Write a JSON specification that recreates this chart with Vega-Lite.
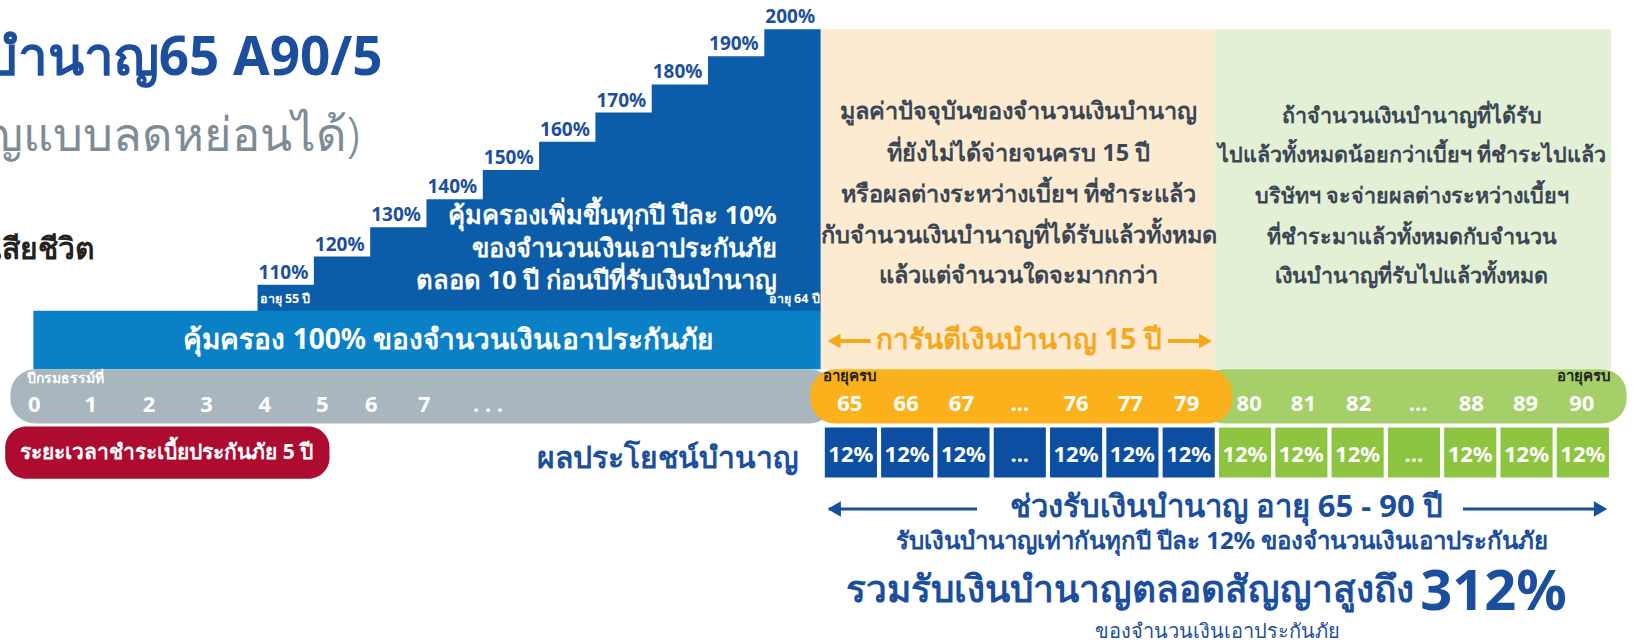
{
  "$schema": "https://vega.github.io/schema/vega-lite/v6.json",
  "width": 1635,
  "height": 643,
  "padding": 0,
  "autosize": {"type": "none"},
  "config": {"view": {"stroke": null}, "text": {"font": "Noto Sans"}},
  "datasets": {
    "peach": [{"x": 787, "x2": 1165, "y": 28, "y2": 354}],
    "lgreen": [{"x": 1165, "x2": 1545, "y": 28, "y2": 354}],
    "stairs": [
      {"pct": "110%", "x": 247, "x2": 302, "y": 273, "y2": 300},
      {"pct": "120%", "x": 301, "x2": 356, "y": 246, "y2": 300},
      {"pct": "130%", "x": 355, "x2": 410, "y": 218, "y2": 300},
      {"pct": "140%", "x": 409, "x2": 464, "y": 191, "y2": 300},
      {"pct": "150%", "x": 463, "x2": 518, "y": 163, "y2": 300},
      {"pct": "160%", "x": 517, "x2": 572, "y": 136, "y2": 300},
      {"pct": "170%", "x": 571, "x2": 626, "y": 108, "y2": 300},
      {"pct": "180%", "x": 625, "x2": 680, "y": 81, "y2": 300},
      {"pct": "190%", "x": 679, "x2": 734, "y": 54, "y2": 300},
      {"pct": "200%", "x": 733, "x2": 787, "y": 28, "y2": 300}
    ],
    "bar100": [{"x": 32, "x2": 787, "y": 298, "y2": 354}],
    "graypill": [{"x": 10, "x2": 800, "y": 354, "y2": 406}],
    "greenpill": [{"x": 1150, "x2": 1560, "y": 354, "y2": 406}],
    "orangepill": [{"x": 777, "x2": 1182, "y": 354, "y2": 406}],
    "redpill": [{"x": 5, "x2": 316, "y": 409, "y2": 459}],
    "blueboxes": [
      {"x": 791, "x2": 841, "t": "12%"},
      {"x": 845, "x2": 895, "t": "12%"},
      {"x": 899, "x2": 949, "t": "12%"},
      {"x": 953, "x2": 1003, "t": "..."},
      {"x": 1007, "x2": 1057, "t": "12%"},
      {"x": 1061, "x2": 1111, "t": "12%"},
      {"x": 1115, "x2": 1165, "t": "12%"}
    ],
    "greenboxes": [
      {"x": 1169, "x2": 1219, "t": "12%"},
      {"x": 1223, "x2": 1273, "t": "12%"},
      {"x": 1277, "x2": 1327, "t": "12%"},
      {"x": 1331, "x2": 1381, "t": "..."},
      {"x": 1385, "x2": 1435, "t": "12%"},
      {"x": 1439, "x2": 1489, "t": "12%"},
      {"x": 1493, "x2": 1543, "t": "12%"}
    ],
    "bluelines": [{"x": 795, "x2": 937, "y": 488}, {"x": 1403, "x2": 1538, "y": 488}],
    "bluehead_l": [{"x": 800, "y": 488}],
    "bluehead_r": [{"x": 1535, "y": 488}],
    "orangelines": [{"x": 797, "x2": 835, "y": 327}, {"x": 1120, "x2": 1158, "y": 327}],
    "orangehead_l": [{"x": 800, "y": 327}],
    "orangehead_r": [{"x": 1156, "y": 327}],
    "title": [{"x": 367, "y": 57, "t": "บำนาญ65 A90/5"}],
    "subtitle": [{"x": 345, "y": 131, "t": "บำนาญแบบลดหย่อนได้)"}],
    "death": [{"x": 90, "y": 240, "t": "เสียชีวิต"}],
    "stairtext": [
      {"x": 745, "y": 207, "t": "คุ้มครองเพิ่มขึ้นทุกปี ปีละ 10%"},
      {"x": 745, "y": 239, "t": "ของจำนวนเงินเอาประกันภัย"},
      {"x": 745, "y": 269, "t": "ตลอด 10 ปี ก่อนปีที่รับเงินบำนาญ"}
    ],
    "agesmall_l": [{"x": 249, "y": 287, "t": "อายุ 55 ปี"}],
    "agesmall_r": [{"x": 786, "y": 287, "t": "อายุ 64 ปี"}],
    "bartext": [{"x": 430, "y": 327, "t": "คุ้มครอง 100% ของจำนวนเงินเอาประกันภัย"}],
    "peachtext": [
      {"x": 977, "y": 107, "t": "มูลค่าปัจจุบันของจำนวนเงินบำนาญ"},
      {"x": 977, "y": 148, "t": "ที่ยังไม่ได้จ่ายจนครบ 15 ปี"},
      {"x": 977, "y": 187, "t": "หรือผลต่างระหว่างเบี้ยฯ ที่ชำระแล้ว"},
      {"x": 977, "y": 226, "t": "กับจำนวนเงินบำนาญที่ได้รับแล้วทั้งหมด"},
      {"x": 977, "y": 265, "t": "แล้วแต่จำนวนใดจะมากกว่า"}
    ],
    "greentext": [
      {"x": 1354, "y": 112, "t": "ถ้าจำนวนเงินบำนาญที่ได้รับ"},
      {"x": 1354, "y": 150, "t": "ไปแล้วทั้งหมดน้อยกว่าเบี้ยฯ ที่ชำระไปแล้ว"},
      {"x": 1354, "y": 189, "t": "บริษัทฯ จะจ่ายผลต่างระหว่างเบี้ยฯ"},
      {"x": 1354, "y": 228, "t": "ที่ชำระมาแล้วทั้งหมดกับจำนวน"},
      {"x": 1354, "y": 266, "t": "เงินบำนาญที่รับไปแล้วทั้งหมด"}
    ],
    "guarantee": [{"x": 977, "y": 327, "t": "การันตีเงินบำนาญ 15 ปี"}],
    "polyearlabel": [{"x": 26, "y": 363, "t": "ปีกรมธรรม์ที่"}],
    "agelabel_l": [{"x": 789, "y": 361, "t": "อายุครบ"}],
    "agelabel_r": [{"x": 1545, "y": 361, "t": "อายุครบ"}],
    "numbers": [
      {"x": 33, "y": 388, "t": "0"},
      {"x": 87, "y": 388, "t": "1"},
      {"x": 143, "y": 388, "t": "2"},
      {"x": 198, "y": 388, "t": "3"},
      {"x": 254, "y": 388, "t": "4"},
      {"x": 309, "y": 388, "t": "5"},
      {"x": 356, "y": 388, "t": "6"},
      {"x": 407, "y": 388, "t": "7"},
      {"x": 468, "y": 388, "t": ". . ."},
      {"x": 815, "y": 387, "t": "65"},
      {"x": 869, "y": 387, "t": "66"},
      {"x": 922, "y": 387, "t": "67"},
      {"x": 978, "y": 387, "t": "..."},
      {"x": 1032, "y": 387, "t": "76"},
      {"x": 1084, "y": 387, "t": "77"},
      {"x": 1138, "y": 387, "t": "79"},
      {"x": 1198, "y": 387, "t": "80"},
      {"x": 1250, "y": 387, "t": "81"},
      {"x": 1303, "y": 387, "t": "82"},
      {"x": 1360, "y": 387, "t": "..."},
      {"x": 1411, "y": 387, "t": "88"},
      {"x": 1463, "y": 387, "t": "89"},
      {"x": 1517, "y": 387, "t": "90"}
    ],
    "benefit": [{"x": 766, "y": 440, "t": "ผลประโยชน์บำนาญ"}],
    "redtext": [{"x": 160, "y": 434, "t": "ระยะเวลาชำระเบี้ยประกันภัย 5 ปี"}],
    "period": [{"x": 1176, "y": 487, "t": "ช่วงรับเงินบำนาญ อายุ 65 - 90 ปี"}],
    "equal": [{"x": 1172, "y": 520, "t": "รับเงินบำนาญเท่ากันทุกปี ปีละ 12% ของจำนวนเงินเอาประกันภัย"}],
    "total": [{"x": 1356, "y": 567, "t": "รวมรับเงินบำนาญตลอดสัญญาสูงถึง"}],
    "total312": [{"x": 1362, "y": 569, "t": "312%"}],
    "ofsum": [{"x": 1168, "y": 606, "t": "ของจำนวนเงินเอาประกันภัย"}]
  },
  "layer": [
    {"data": {"name": "peach"}, "mark": {"type": "rect", "color": "#fdebd1"},
     "encoding": {"x": {"field": "x", "type": "quantitative", "scale": {"domain": [0, 1568], "nice": false, "zero": false}, "axis": null}, "x2": {"field": "x2"}, "y": {"field": "y", "type": "quantitative", "scale": {"domain": [0, 616.6], "reverse": true, "nice": false, "zero": false}, "axis": null}, "y2": {"field": "y2"}}},
    {"data": {"name": "lgreen"}, "mark": {"type": "rect", "color": "#e4f0d5"},
     "encoding": {"x": {"field": "x", "type": "quantitative"}, "x2": {"field": "x2"}, "y": {"field": "y", "type": "quantitative"}, "y2": {"field": "y2"}}},
    {"data": {"name": "stairs"}, "mark": {"type": "rect", "color": "#0b5ca9"},
     "encoding": {"x": {"field": "x", "type": "quantitative"}, "x2": {"field": "x2"}, "y": {"field": "y", "type": "quantitative"}, "y2": {"field": "y2"}}},
    {"data": {"name": "stairs"}, "mark": {"type": "text", "align": "left", "baseline": "middle", "dx": 1, "dy": -12, "fontSize": 19, "fontWeight": "bold", "color": "#1b4f9e"},
     "encoding": {"x": {"field": "x", "type": "quantitative"}, "y": {"field": "y", "type": "quantitative"}, "text": {"field": "pct"}}},
    {"data": {"name": "bar100"}, "mark": {"type": "rect", "color": "#0a81c7"},
     "encoding": {"x": {"field": "x", "type": "quantitative"}, "x2": {"field": "x2"}, "y": {"field": "y", "type": "quantitative"}, "y2": {"field": "y2"}}},
    {"data": {"name": "graypill"}, "mark": {"type": "rect", "color": "#aab6be", "cornerRadius": 25},
     "encoding": {"x": {"field": "x", "type": "quantitative"}, "x2": {"field": "x2"}, "y": {"field": "y", "type": "quantitative"}, "y2": {"field": "y2"}}},
    {"data": {"name": "greenpill"}, "mark": {"type": "rect", "color": "#a5cf69", "cornerRadius": 25},
     "encoding": {"x": {"field": "x", "type": "quantitative"}, "x2": {"field": "x2"}, "y": {"field": "y", "type": "quantitative"}, "y2": {"field": "y2"}}},
    {"data": {"name": "orangepill"}, "mark": {"type": "rect", "color": "#fbb11b", "cornerRadius": 25},
     "encoding": {"x": {"field": "x", "type": "quantitative"}, "x2": {"field": "x2"}, "y": {"field": "y", "type": "quantitative"}, "y2": {"field": "y2"}}},
    {"data": {"name": "redpill"}, "mark": {"type": "rect", "color": "#ad0b30", "cornerRadius": 21},
     "encoding": {"x": {"field": "x", "type": "quantitative"}, "x2": {"field": "x2"}, "y": {"field": "y", "type": "quantitative"}, "y2": {"field": "y2"}}},
    {"data": {"name": "blueboxes"}, "mark": {"type": "rect", "color": "#0c4ea2"},
     "encoding": {"x": {"field": "x", "type": "quantitative"}, "x2": {"field": "x2"}, "y": {"datum": 410, "type": "quantitative"}, "y2": {"datum": 458}}},
    {"data": {"name": "greenboxes"}, "mark": {"type": "rect", "color": "#8dc540"},
     "encoding": {"x": {"field": "x", "type": "quantitative"}, "x2": {"field": "x2"}, "y": {"datum": 410, "type": "quantitative"}, "y2": {"datum": 458}}},
    {"data": {"name": "blueboxes"}, "mark": {"type": "text", "align": "center", "baseline": "middle", "dx": 26, "fontSize": 22, "fontWeight": "bold", "color": "white"},
     "encoding": {"x": {"field": "x", "type": "quantitative"}, "y": {"datum": 436, "type": "quantitative"}, "text": {"field": "t"}}},
    {"data": {"name": "greenboxes"}, "mark": {"type": "text", "align": "center", "baseline": "middle", "dx": 26, "fontSize": 22, "fontWeight": "bold", "color": "white"},
     "encoding": {"x": {"field": "x", "type": "quantitative"}, "y": {"datum": 436, "type": "quantitative"}, "text": {"field": "t"}}},
    {"data": {"name": "bluelines"}, "mark": {"type": "rule", "color": "#1a4d9c", "strokeWidth": 3},
     "encoding": {"x": {"field": "x", "type": "quantitative"}, "x2": {"field": "x2"}, "y": {"field": "y", "type": "quantitative"}}},
    {"data": {"name": "bluehead_l"}, "mark": {"type": "point", "shape": "triangle-left", "filled": true, "color": "#1a4d9c", "size": 240, "opacity": 1},
     "encoding": {"x": {"field": "x", "type": "quantitative"}, "y": {"field": "y", "type": "quantitative"}}},
    {"data": {"name": "bluehead_r"}, "mark": {"type": "point", "shape": "triangle-right", "filled": true, "color": "#1a4d9c", "size": 240, "opacity": 1},
     "encoding": {"x": {"field": "x", "type": "quantitative"}, "y": {"field": "y", "type": "quantitative"}}},
    {"data": {"name": "orangelines"}, "mark": {"type": "rule", "color": "#f6a81c", "strokeWidth": 4},
     "encoding": {"x": {"field": "x", "type": "quantitative"}, "x2": {"field": "x2"}, "y": {"field": "y", "type": "quantitative"}}},
    {"data": {"name": "orangehead_l"}, "mark": {"type": "point", "shape": "triangle-left", "filled": true, "color": "#f6a81c", "size": 220, "opacity": 1},
     "encoding": {"x": {"field": "x", "type": "quantitative"}, "y": {"field": "y", "type": "quantitative"}}},
    {"data": {"name": "orangehead_r"}, "mark": {"type": "point", "shape": "triangle-right", "filled": true, "color": "#f6a81c", "size": 220, "opacity": 1},
     "encoding": {"x": {"field": "x", "type": "quantitative"}, "y": {"field": "y", "type": "quantitative"}}},
    {"data": {"name": "title"}, "mark": {"type": "text", "align": "right", "baseline": "middle", "fontSize": 53, "fontWeight": "bold", "color": "#1b4f9e"},
     "encoding": {"x": {"field": "x", "type": "quantitative"}, "y": {"field": "y", "type": "quantitative"}, "text": {"field": "t"}}},
    {"data": {"name": "subtitle"}, "mark": {"type": "text", "align": "right", "baseline": "middle", "fontSize": 47, "fontWeight": 300, "color": "#7e8c95"},
     "encoding": {"x": {"field": "x", "type": "quantitative"}, "y": {"field": "y", "type": "quantitative"}, "text": {"field": "t"}}},
    {"data": {"name": "death"}, "mark": {"type": "text", "align": "right", "baseline": "middle", "fontSize": 30, "fontWeight": "bold", "color": "#222222"},
     "encoding": {"x": {"field": "x", "type": "quantitative"}, "y": {"field": "y", "type": "quantitative"}, "text": {"field": "t"}}},
    {"data": {"name": "stairtext"}, "mark": {"type": "text", "align": "right", "baseline": "middle", "fontSize": 25.5, "fontWeight": "bold", "color": "white"},
     "encoding": {"x": {"field": "x", "type": "quantitative"}, "y": {"field": "y", "type": "quantitative"}, "text": {"field": "t"}}},
    {"data": {"name": "agesmall_l"}, "mark": {"type": "text", "align": "left", "baseline": "middle", "fontSize": 12.5, "fontWeight": "bold", "color": "white"},
     "encoding": {"x": {"field": "x", "type": "quantitative"}, "y": {"field": "y", "type": "quantitative"}, "text": {"field": "t"}}},
    {"data": {"name": "agesmall_r"}, "mark": {"type": "text", "align": "right", "baseline": "middle", "fontSize": 12.5, "fontWeight": "bold", "color": "white"},
     "encoding": {"x": {"field": "x", "type": "quantitative"}, "y": {"field": "y", "type": "quantitative"}, "text": {"field": "t"}}},
    {"data": {"name": "bartext"}, "mark": {"type": "text", "align": "center", "baseline": "middle", "fontSize": 28, "fontWeight": "bold", "color": "white"},
     "encoding": {"x": {"field": "x", "type": "quantitative"}, "y": {"field": "y", "type": "quantitative"}, "text": {"field": "t"}}},
    {"data": {"name": "peachtext"}, "mark": {"type": "text", "align": "center", "baseline": "middle", "fontSize": 23.5, "fontWeight": "bold", "color": "#3b4754"},
     "encoding": {"x": {"field": "x", "type": "quantitative"}, "y": {"field": "y", "type": "quantitative"}, "text": {"field": "t"}}},
    {"data": {"name": "greentext"}, "mark": {"type": "text", "align": "center", "baseline": "middle", "fontSize": 21.5, "fontWeight": "bold", "color": "#3b4754"},
     "encoding": {"x": {"field": "x", "type": "quantitative"}, "y": {"field": "y", "type": "quantitative"}, "text": {"field": "t"}}},
    {"data": {"name": "guarantee"}, "mark": {"type": "text", "align": "center", "baseline": "middle", "fontSize": 28, "fontWeight": "bold", "color": "#f6a81c"},
     "encoding": {"x": {"field": "x", "type": "quantitative"}, "y": {"field": "y", "type": "quantitative"}, "text": {"field": "t"}}},
    {"data": {"name": "polyearlabel"}, "mark": {"type": "text", "align": "left", "baseline": "middle", "fontSize": 14, "fontWeight": "bold", "color": "white"},
     "encoding": {"x": {"field": "x", "type": "quantitative"}, "y": {"field": "y", "type": "quantitative"}, "text": {"field": "t"}}},
    {"data": {"name": "agelabel_l"}, "mark": {"type": "text", "align": "left", "baseline": "middle", "fontSize": 15, "fontWeight": "bold", "color": "#222222"},
     "encoding": {"x": {"field": "x", "type": "quantitative"}, "y": {"field": "y", "type": "quantitative"}, "text": {"field": "t"}}},
    {"data": {"name": "agelabel_r"}, "mark": {"type": "text", "align": "right", "baseline": "middle", "fontSize": 15, "fontWeight": "bold", "color": "#222222"},
     "encoding": {"x": {"field": "x", "type": "quantitative"}, "y": {"field": "y", "type": "quantitative"}, "text": {"field": "t"}}},
    {"data": {"name": "numbers"}, "mark": {"type": "text", "align": "center", "baseline": "middle", "fontSize": 22, "fontWeight": "bold", "color": "white"},
     "encoding": {"x": {"field": "x", "type": "quantitative"}, "y": {"field": "y", "type": "quantitative"}, "text": {"field": "t"}}},
    {"data": {"name": "benefit"}, "mark": {"type": "text", "align": "right", "baseline": "middle", "fontSize": 30, "fontWeight": "bold", "color": "#1b4f9e"},
     "encoding": {"x": {"field": "x", "type": "quantitative"}, "y": {"field": "y", "type": "quantitative"}, "text": {"field": "t"}}},
    {"data": {"name": "redtext"}, "mark": {"type": "text", "align": "center", "baseline": "middle", "fontSize": 21, "fontWeight": "bold", "color": "white"},
     "encoding": {"x": {"field": "x", "type": "quantitative"}, "y": {"field": "y", "type": "quantitative"}, "text": {"field": "t"}}},
    {"data": {"name": "period"}, "mark": {"type": "text", "align": "center", "baseline": "middle", "fontSize": 31, "fontWeight": "bold", "color": "#1b4f9e"},
     "encoding": {"x": {"field": "x", "type": "quantitative"}, "y": {"field": "y", "type": "quantitative"}, "text": {"field": "t"}}},
    {"data": {"name": "equal"}, "mark": {"type": "text", "align": "center", "baseline": "middle", "fontSize": 24, "fontWeight": "bold", "color": "#1b4f9e"},
     "encoding": {"x": {"field": "x", "type": "quantitative"}, "y": {"field": "y", "type": "quantitative"}, "text": {"field": "t"}}},
    {"data": {"name": "total"}, "mark": {"type": "text", "align": "right", "baseline": "middle", "fontSize": 37, "fontWeight": "bold", "color": "#1b4f9e"},
     "encoding": {"x": {"field": "x", "type": "quantitative"}, "y": {"field": "y", "type": "quantitative"}, "text": {"field": "t"}}},
    {"data": {"name": "total312"}, "mark": {"type": "text", "align": "left", "baseline": "middle", "fontSize": 56, "fontWeight": "bold", "color": "#1b4f9e"},
     "encoding": {"x": {"field": "x", "type": "quantitative"}, "y": {"field": "y", "type": "quantitative"}, "text": {"field": "t"}}},
    {"data": {"name": "ofsum"}, "mark": {"type": "text", "align": "center", "baseline": "middle", "fontSize": 20, "fontWeight": 300, "color": "#1b4f9e"},
     "encoding": {"x": {"field": "x", "type": "quantitative"}, "y": {"field": "y", "type": "quantitative"}, "text": {"field": "t"}}}
  ]
}
